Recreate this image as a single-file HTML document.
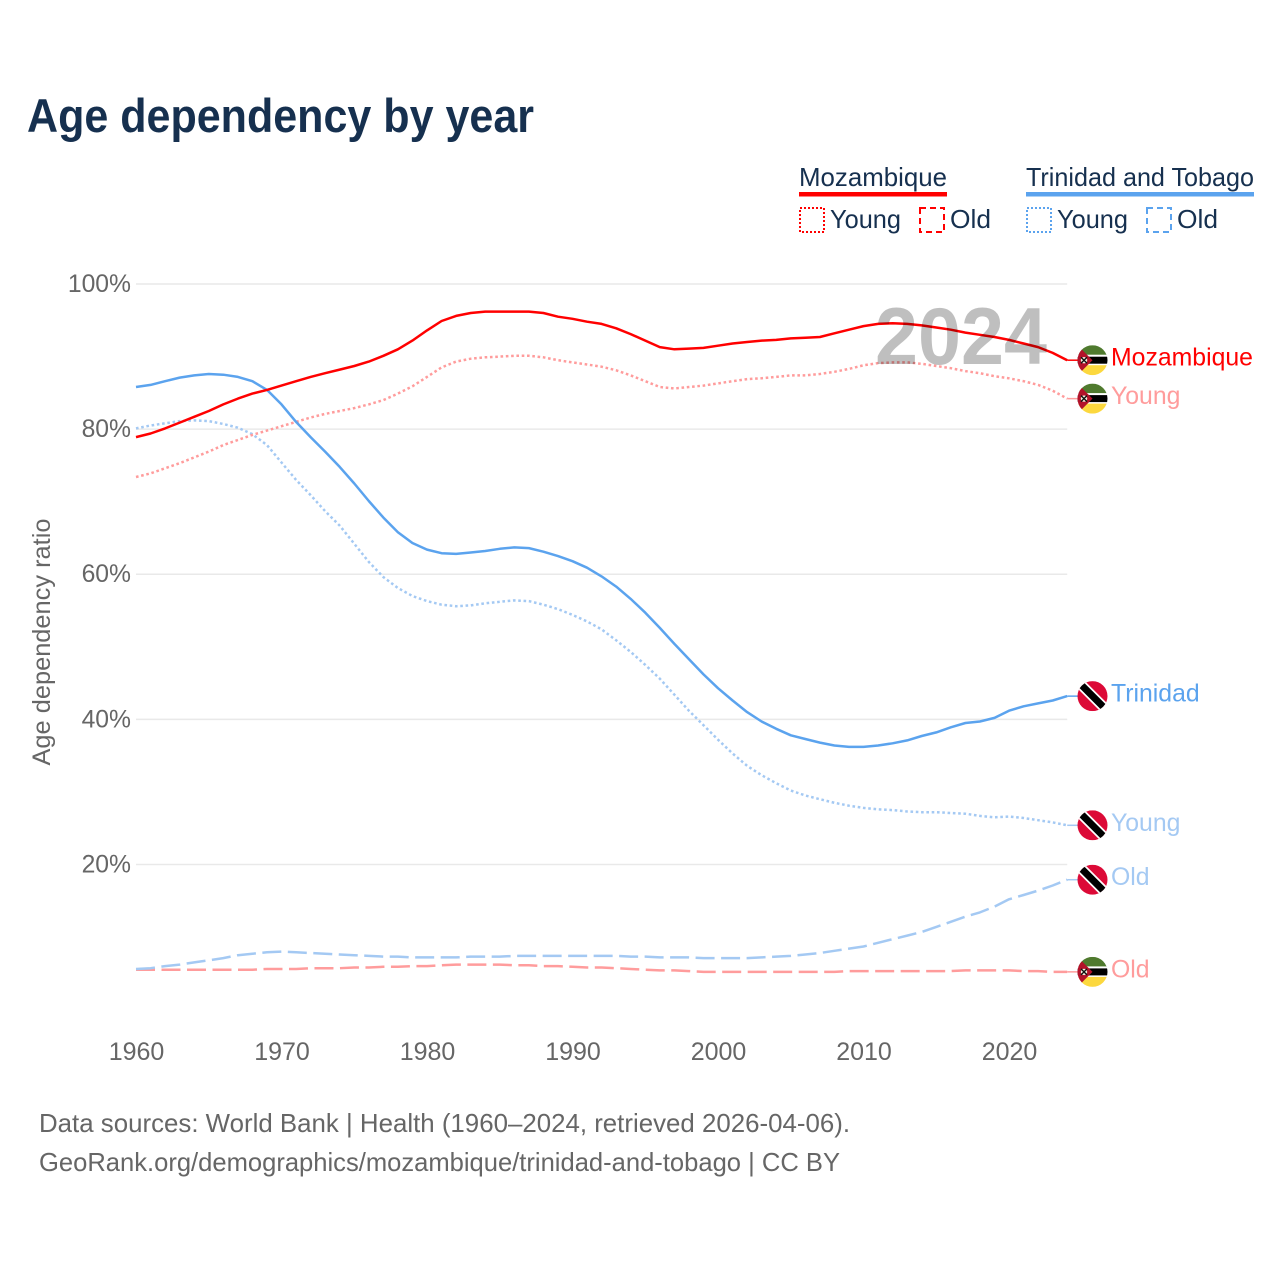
<!DOCTYPE html>
<html lang="en">
<head>
<meta charset="utf-8">
<title>Age dependency by year</title>
<style>
  html, body { margin: 0; padding: 0; background: #fff; }
  svg { display: block; font-family: "Liberation Sans", sans-serif; }
</style>
</head>
<body>
<svg id="chart" xmlns="http://www.w3.org/2000/svg" width="1280" height="1280" viewBox="0 0 1280 1280">
  <defs>
    <clipPath id="flag-clip"><circle cx="0" cy="0" r="15"></circle></clipPath>
    <g id="flag-mz" clip-path="url(#flag-clip)">
      <rect x="-15" y="-15" width="30" height="10" fill="#4f7a2e"></rect>
      <rect x="-15" y="-5.5" width="30" height="10.5" fill="#fff"></rect>
      <rect x="-15" y="-3.5" width="30" height="7" fill="#000"></rect>
      <rect x="-15" y="5" width="30" height="10" fill="#fcd83e"></rect>
      <polygon points="-15,-15 0,0 -15,15" fill="#b3122a"></polygon>
      <circle cx="-8.5" cy="0" r="3.2" fill="#f4efe0"></circle>
      <path d="M-11.5,-3 L-5.5,3 M-5.5,-3 L-11.5,3" stroke="#111" stroke-width="1.4"></path>
    </g>
    <g id="flag-tt" clip-path="url(#flag-clip)">
      <rect x="-15" y="-15" width="30" height="30" fill="#dc0a37"></rect>
      <line x1="-15" y1="-15" x2="15" y2="15" stroke="#fff" stroke-width="10.5"></line>
      <line x1="-15" y1="-15" x2="15" y2="15" stroke="#000" stroke-width="7"></line>
    </g>
  </defs>

  <text x="27" y="132" font-size="47" font-weight="700" fill="#16304f" textLength="507" lengthAdjust="spacingAndGlyphs">Age dependency by year</text>

  <g>
    <g>
      <text x="799" y="186" font-size="26" fill="#16304f" textLength="148" lengthAdjust="spacingAndGlyphs">Mozambique</text>
      <rect x="799" y="192" width="148" height="4.5" fill="#ff0000"></rect>
      <rect x="800" y="208" width="24" height="24" fill="none" stroke="#ff0000" stroke-width="2" stroke-dasharray="2 2"></rect>
      <text x="830" y="228" font-size="26" fill="#16304f" textLength="71" lengthAdjust="spacingAndGlyphs">Young</text>
      <rect x="920" y="208" width="24" height="24" fill="none" stroke="#ff0000" stroke-width="2" stroke-dasharray="6 4"></rect>
      <text x="950" y="228" font-size="26" fill="#16304f" textLength="41" lengthAdjust="spacingAndGlyphs">Old</text>
    </g>
    <g>
      <text x="1026" y="186" font-size="26" fill="#16304f" textLength="228" lengthAdjust="spacingAndGlyphs">Trinidad and Tobago</text>
      <rect x="1026" y="192" width="228" height="4.5" fill="#5ba3ee"></rect>
      <rect x="1027" y="208" width="24" height="24" fill="none" stroke="#5ba3ee" stroke-width="2" stroke-dasharray="2 2"></rect>
      <text x="1057" y="228" font-size="26" fill="#16304f" textLength="71" lengthAdjust="spacingAndGlyphs">Young</text>
      <rect x="1147" y="208" width="24" height="24" fill="none" stroke="#5ba3ee" stroke-width="2" stroke-dasharray="6 4"></rect>
      <text x="1177" y="228" font-size="26" fill="#16304f" textLength="41" lengthAdjust="spacingAndGlyphs">Old</text>
    </g>
  </g>

  <g id="grid"></g>
  <g id="y-ticks"></g>
  <g id="x-ticks"></g>
  <text transform="translate(50,642) rotate(-90)" text-anchor="middle" font-size="25" fill="#666" textLength="247" lengthAdjust="spacingAndGlyphs">Age dependency ratio</text>

  <g id="series"></g>
  <g id="end-labels"></g>

  <text x="875" y="364" font-size="81" font-weight="700" fill="#000" fill-opacity="0.25" textLength="172" lengthAdjust="spacingAndGlyphs">2024</text>

  <g>
    <text x="39" y="1132" font-size="26" fill="#666" textLength="811" lengthAdjust="spacingAndGlyphs">Data sources: World Bank | Health (1960–2024, retrieved 2026-04-06).</text>
    <text x="39" y="1171" font-size="26" fill="#666" textLength="801" lengthAdjust="spacingAndGlyphs">GeoRank.org/demographics/mozambique/trinidad-and-tobago | CC BY</text>
  </g>
</svg>

<script>
const firstYear = 1960;
const xTickYears = [1960, 1970, 1980, 1990, 2000, 2010, 2020];
const yTickValues = [20, 40, 60, 80, 100];

const mozTotal = [78.9,79.4,80.1,80.9,81.7,82.5,83.4,84.2,84.9,85.4,86.0,86.6,87.2,87.7,88.2,88.7,89.3,90.1,91.0,92.2,93.6,94.9,95.6,96.0,96.2,96.2,96.2,96.2,96.0,95.5,95.2,94.8,94.5,93.9,93.1,92.2,91.3,91.0,91.1,91.2,91.5,91.8,92.0,92.2,92.3,92.5,92.6,92.7,93.2,93.7,94.2,94.5,94.6,94.5,94.3,94.0,93.7,93.3,93.0,92.7,92.3,91.8,91.3,90.5,89.5];
const mozYoung = [73.4,73.9,74.6,75.3,76.1,76.9,77.8,78.5,79.2,79.8,80.4,81.0,81.6,82.1,82.5,82.9,83.4,84.0,84.9,85.9,87.2,88.5,89.3,89.7,89.9,90.0,90.1,90.1,89.9,89.5,89.2,88.9,88.6,88.1,87.4,86.6,85.8,85.6,85.8,86.0,86.3,86.6,86.9,87.0,87.2,87.4,87.4,87.6,87.9,88.3,88.8,89.1,89.2,89.2,89.0,88.7,88.4,88.0,87.7,87.3,87.0,86.6,86.1,85.3,84.2];
const mozOld = [5.5,5.5,5.5,5.5,5.5,5.5,5.5,5.5,5.5,5.6,5.6,5.6,5.7,5.7,5.7,5.8,5.8,5.9,5.9,6.0,6.0,6.1,6.2,6.2,6.2,6.2,6.1,6.1,6.0,6.0,5.9,5.8,5.8,5.7,5.6,5.5,5.4,5.4,5.3,5.2,5.2,5.2,5.2,5.2,5.2,5.2,5.2,5.2,5.2,5.3,5.3,5.3,5.3,5.3,5.3,5.3,5.3,5.4,5.4,5.4,5.4,5.3,5.3,5.2,5.2];
const ttTotal = [85.8,86.1,86.6,87.1,87.4,87.6,87.5,87.2,86.6,85.4,83.4,81.0,78.9,76.9,74.8,72.5,70.1,67.8,65.8,64.3,63.4,62.9,62.8,63.0,63.2,63.5,63.7,63.6,63.1,62.5,61.8,60.9,59.7,58.3,56.6,54.7,52.6,50.4,48.3,46.2,44.3,42.6,41.0,39.7,38.7,37.8,37.3,36.8,36.4,36.2,36.2,36.4,36.7,37.1,37.7,38.2,38.9,39.5,39.7,40.2,41.2,41.8,42.2,42.6,43.2];
const ttYoung = [80.1,80.5,80.8,81.1,81.2,81.1,80.7,80.2,79.3,77.8,75.4,73.0,70.9,68.7,66.7,64.2,61.7,59.6,58.1,57.0,56.3,55.8,55.6,55.7,56.0,56.2,56.4,56.3,55.8,55.2,54.4,53.5,52.4,50.9,49.3,47.5,45.6,43.4,41.2,39.2,37.2,35.3,33.6,32.3,31.2,30.2,29.5,29.0,28.5,28.1,27.8,27.6,27.5,27.3,27.2,27.2,27.1,27.0,26.7,26.5,26.6,26.4,26.1,25.8,25.4];
const ttOld = [5.6,5.7,6.0,6.2,6.5,6.8,7.1,7.5,7.7,7.9,8.0,7.9,7.8,7.7,7.6,7.5,7.4,7.3,7.3,7.2,7.2,7.2,7.2,7.3,7.3,7.3,7.4,7.4,7.4,7.4,7.4,7.4,7.4,7.4,7.3,7.3,7.2,7.2,7.2,7.1,7.1,7.1,7.1,7.2,7.3,7.4,7.6,7.8,8.1,8.4,8.7,9.2,9.7,10.2,10.7,11.4,12.1,12.8,13.4,14.2,15.2,15.8,16.4,17.1,17.9];

const NS = 'http://www.w3.org/2000/svg';
const xScale = function (year) { return 136 + (year - 1960) * 14.55; };
const yScale = function (pct) { return 1009.6 - pct * 7.256; };
const xRight = xScale(firstYear + mozTotal.length - 1);

function make(tag, parent, attrs) {
  const el = document.createElementNS(NS, tag);
  for (const k in attrs) el.setAttribute(k, attrs[k]);
  parent.appendChild(el);
  return el;
}

const gridGroup = document.getElementById('grid');
const yTickGroup = document.getElementById('y-ticks');
yTickValues.forEach(function (v) {
  const line = make('line', gridGroup, { x1: 136, x2: xRight, y1: yScale(v), y2: yScale(v), stroke: '#e9e9e9', 'stroke-width': 1.5 });
  
  
  const t = make('text', yTickGroup, { x: 131, y: yScale(v) + 8, 'text-anchor': 'end', 'font-size': 24.7, fill: '#666' });
  t.textContent = v + '%';
  
  
});

const xTickGroup = document.getElementById('x-ticks');
xTickYears.forEach(function (yr) {
  const t = make('text', xTickGroup, { x: xScale(yr) + 0.5, y: 1060, 'text-anchor': 'middle', 'font-size': 25, fill: '#666' });
  t.textContent = yr;
  
  
});

function drawSeries(values, color, dash, name, label, flag) {
  const group = document.getElementById('series');
  const pts = values.map(function (v, i) { return xScale(firstYear + i).toFixed(1) + ',' + yScale(v).toFixed(1); });
  const endY = yScale(values[values.length - 1]);
  const line = make('polyline', group, { points: pts.join(' '), fill: 'none', stroke: color, 'stroke-width': 2.5, 'stroke-linejoin': 'round', 'stroke-dasharray': dash });
  
  
  const leader = make('line', group, { x1: xRight, x2: 1078, y1: endY, y2: endY, stroke: color, 'stroke-width': 1.5 });
  
  

  const labels = document.getElementById('end-labels');
  const icon = make('use', labels, { href: '#' + flag, transform: 'translate(1092.5,' + endY.toFixed(1) + ')' });
  
  
  const t = make('text', labels, { x: 1111, y: endY + 5.5, 'font-size': 24.8, fill: color });
  t.textContent = label;
  
  
}

const DOT = '2.6 2.7';
const DASH = '19 6.5';
drawSeries(mozOld,   '#ff9c9c', DASH, 'mozambique-old',   'Old',        'flag-mz');
drawSeries(ttOld,    '#a4c9f3', DASH, 'trinidad-old',     'Old',        'flag-tt');
drawSeries(ttYoung,  '#a4c9f3', DOT,  'trinidad-young',   'Young',      'flag-tt');
drawSeries(mozYoung, '#ff9c9c', DOT,  'mozambique-young', 'Young',      'flag-mz');
drawSeries(ttTotal,  '#5ba3ee', 'none', 'trinidad-total', 'Trinidad',   'flag-tt');
drawSeries(mozTotal, '#ff0000', 'none', 'mozambique-total', 'Mozambique', 'flag-mz');
</script>
</body>
</html>
